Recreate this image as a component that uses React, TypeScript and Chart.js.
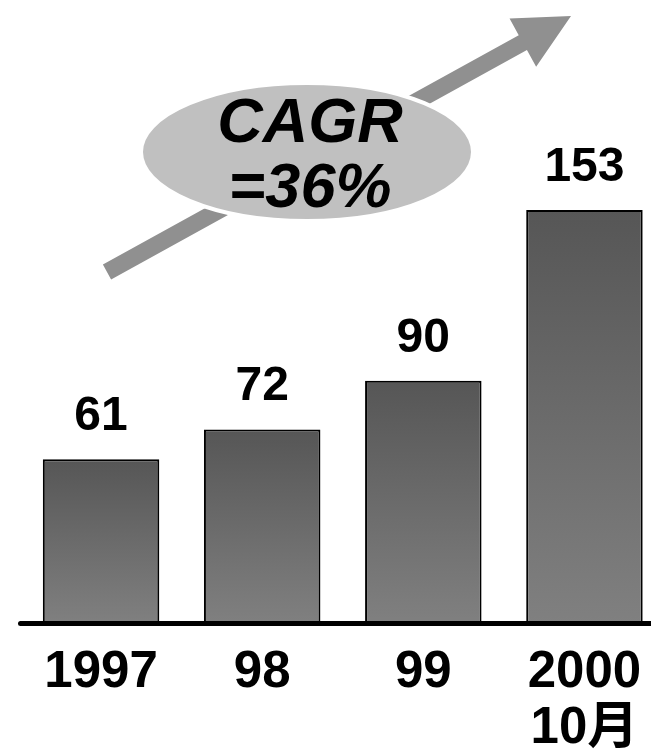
import React, { useEffect, useRef } from "react";
import { Chart, registerables } from "chart.js";

Chart.register(...registerables);

const categories: string[][] = [["1997"], ["98"], ["99"], ["2000", "10月"]];
const values: number[] = [61, 72, 90, 153];
const annotationLines: string[] = ["CAGR", "=36%"];

const FONT = '"Liberation Sans", Arial, "Noto Sans CJK SC", sans-serif';

const decorPlugin = {
  id: "decor",
  beforeDatasetsDraw(chart: any) {
    const c = chart.ctx as CanvasRenderingContext2D;
    c.save();
    // growth arrow
    const tail = { x: 107, y: 272 };
    const tip = { x: 571, y: 16 };
    const dx = tip.x - tail.x;
    const dy = tip.y - tail.y;
    const len = Math.hypot(dx, dy);
    const ux = dx / len, uy = dy / len;
    const nx = -uy, ny = ux;
    const headLen = 55, headHalf = 27.5, shaftHalf = 8.5;
    const bx = tip.x - headLen * ux, by = tip.y - headLen * uy;
    c.fillStyle = "#909090";
    c.beginPath();
    c.moveTo(tail.x + shaftHalf * nx, tail.y + shaftHalf * ny);
    c.lineTo(bx + shaftHalf * nx, by + shaftHalf * ny);
    c.lineTo(bx + headHalf * nx, by + headHalf * ny);
    c.lineTo(tip.x, tip.y);
    c.lineTo(bx - headHalf * nx, by - headHalf * ny);
    c.lineTo(bx - shaftHalf * nx, by - shaftHalf * ny);
    c.lineTo(tail.x - shaftHalf * nx, tail.y - shaftHalf * ny);
    c.closePath();
    c.fill();
    // ellipse
    c.beginPath();
    c.ellipse(307, 152, 166, 69, 0, 0, Math.PI * 2);
    c.fillStyle = "#c0c0c0";
    c.fill();
    c.lineWidth = 4;
    c.strokeStyle = "#ffffff";
    c.stroke();
    // annotation text
    c.fillStyle = "#000";
    c.font = `italic bold 63px ${FONT}`;
    c.textAlign = "center";
    c.textBaseline = "alphabetic";
    c.fillText(annotationLines[0], 310, 142);
    c.fillText(annotationLines[1], 310, 207);
    c.restore();
  },
  afterDatasetsDraw(chart: any) {
    const c = chart.ctx as CanvasRenderingContext2D;
    const meta = chart.getDatasetMeta(0);
    const yScale = chart.scales.y;
    const xScale = chart.scales.x;
    c.save();
    // axis line
    const y0 = yScale.getPixelForValue(0) - 1;
    c.strokeStyle = "#000";
    c.lineWidth = 5;
    c.lineCap = "round";
    c.beginPath();
    c.moveTo(chart.chartArea.left, y0);
    c.lineTo(chart.width + 10, y0);
    c.stroke();
    // value labels
    c.fillStyle = "#000";
    c.textAlign = "center";
    c.textBaseline = "alphabetic";
    c.font = `bold 48px ${FONT}`;
    meta.data.forEach((bar: any, i: number) => {
      c.fillText(String(values[i]), bar.x, bar.y - 29);
    });
    // category labels
    c.font = `bold 51px ${FONT}`;
    categories.forEach((lines, i) => {
      const x = xScale.getPixelForValue(i);
      lines.forEach((t, j) => {
        c.fillText(t, x, 687 + j * 56);
      });
    });
    c.restore();
  },
};

export default function App() {
  const ref = useRef<HTMLCanvasElement | null>(null);
  useEffect(() => {
    if (!ref.current) return;
    const chart = new Chart(ref.current, {
      type: "bar",
      data: {
        labels: categories.map((l) => l.join(" ")),
        datasets: [
          {
            data: values,
            borderColor: "#000",
            borderWidth: 2,
            barPercentage: 0.723,
            categoryPercentage: 1,
            backgroundColor: (ctx: any) => {
              const chart = ctx.chart;
              const ys = chart.scales && chart.scales.y;
              if (!ys || ctx.type !== "data") return "#6a6a6a";
              const top = ys.getPixelForValue(ctx.raw);
              const bottom = ys.getPixelForValue(0);
              if (!isFinite(top) || !isFinite(bottom) || top === bottom) return "#6a6a6a";
              const g = chart.ctx.createLinearGradient(0, top, 0, bottom);
              g.addColorStop(0, "#565656");
              g.addColorStop(1, "#808080");
              return g;
            },
          },
        ],
      },
      options: {
        responsive: false,
        animation: false,
        layout: { padding: { left: 20.5, right: 1, top: 0, bottom: 124.5 } },
        plugins: { legend: { display: false }, tooltip: { enabled: false } },
        scales: {
          x: { display: false, offset: true },
          y: { display: false, min: 0, max: 230.5 },
        },
      },
      plugins: [decorPlugin],
    });
    return () => chart.destroy();
  }, []);
  return (
    <div style={{ position: "fixed", left: 0, top: 0, width: 651, height: 749, overflow: "hidden", background: "#fff" }}>
      <canvas ref={ref} width={666} height={749} style={{ display: "block", width: 666, height: 749 }} />
    </div>
  );
}
